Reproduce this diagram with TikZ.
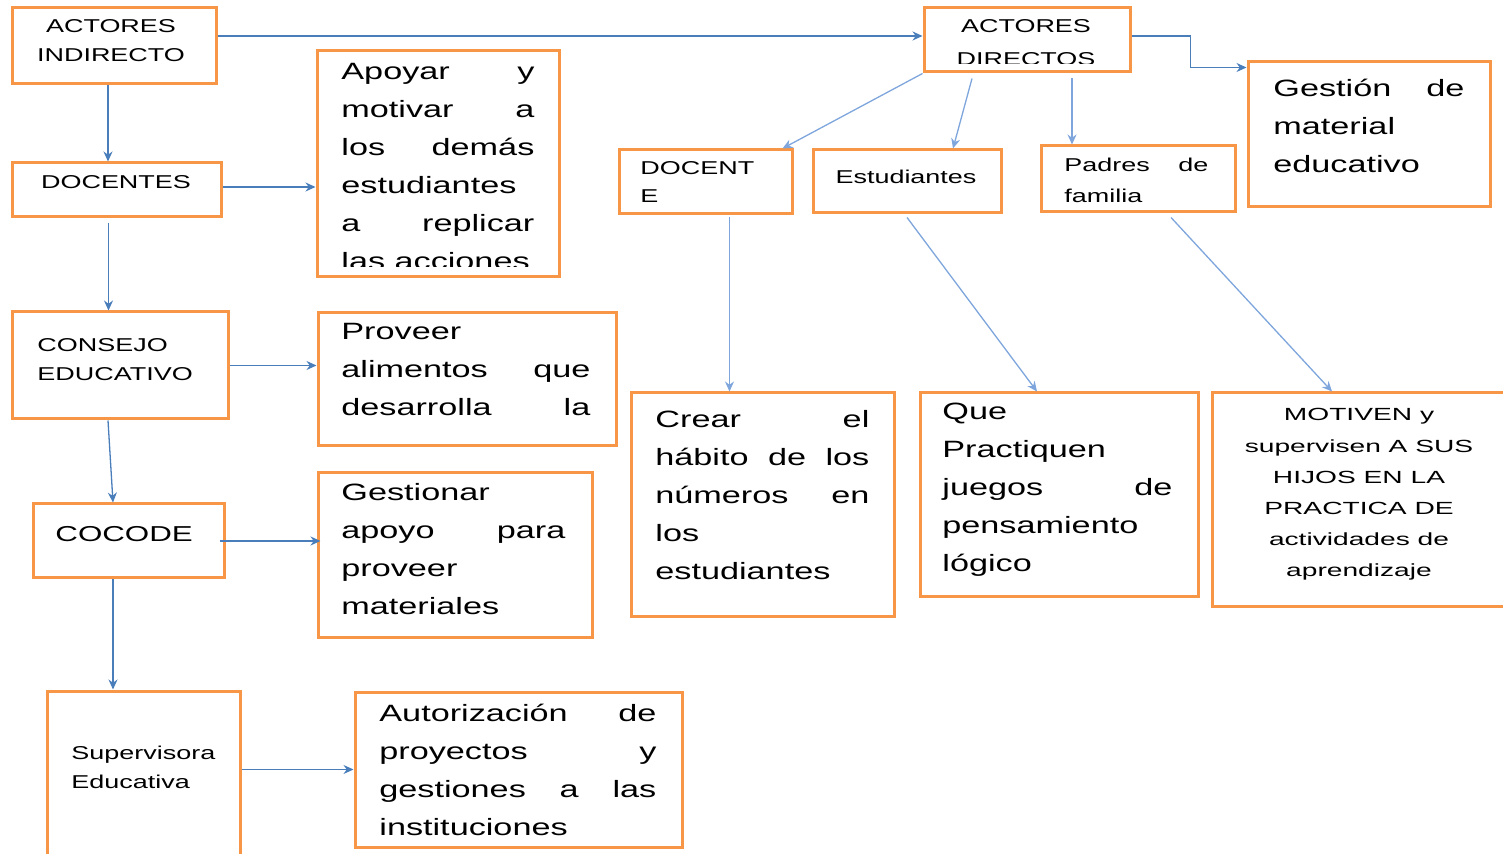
\documentclass[tikz,border=0pt]{standalone}
\usepackage{fontspec}
\usepackage{tikz}
\usetikzlibrary{fit,arrows.meta}
\newfontfamily\widefont[FakeStretch=1.45]{Liberation Sans}
\newfontfamily\motfont[FakeStretch=1.6]{Liberation Sans}
\definecolor{boxorange}{HTML}{F79646}
\definecolor{arrblue}{HTML}{4A7EBB}
\definecolor{arrlight}{HTML}{7EA6DC}
\newcommand{\jpar}[2]{\parbox[t]{#1}{#2}}
\newcommand{\cpar}[2]{\parbox[t]{#1}{\centering #2}}
\tikzset{
	obox/.style={draw=boxorange, line width=1.5pt, inner sep=0pt},
	lbl/.style={inner sep=0pt, anchor=base west},
	clbl/.style={inner sep=0pt, anchor=base},
	bigtxt/.style={font=\widefont\fontsize{11.8}{19}\selectfont},
	smalltxt/.style={font=\widefont\fontsize{9.3}{14.5}\selectfont},
	arr/.style={-{Stealth[length=5pt,width=4.5pt]}, arrblue, line width=0.65pt},
	arrl/.style={arr, arrlight}
}

\begin{document}
\begin{tikzpicture}[x=0.5pt,y=-0.5pt]
	\useasboundingbox (0,0) rectangle (1503,854);
	\clip (0,0) rectangle (1503,854);
	% boxes
	\node[obox, fit={(12,8) (216,84)}] (ai) {};
	\node[obox, fit={(12,163) (221,217)}] (doc) {};
	\node[obox, fit={(12,312) (228,419)}] (cons) {};
	\node[obox, fit={(33,504) (224,578)}] (coc) {};
	\node[obox, fit={(47,691) (240,880)}] (sup) {};
	\node[obox, fit={(317,51) (559,277)}] (apo) {};
	\node[obox, fit={(318,313) (616,446)}] (prov) {};
	\node[obox, fit={(318,473) (592,637)}] (gest) {};
	\node[obox, fit={(355,692) (682,847)}] (aut) {};
	\node[obox, fit={(924,8) (1130,72)}] (ad) {};
	\node[obox, fit={(1248,62) (1490,207)}] (gm) {};
	\node[obox, fit={(619,150) (792,214)}] (dd) {};
	\node[obox, fit={(813,150) (1001,213)}] (est) {};
	\node[obox, fit={(1041,146) (1235,212)}] (pad) {};
	\node[obox, fit={(631,393) (894,617)}] (cre) {};
	\node[obox, fit={(920,393) (1198,597)}] (que) {};
	\node[obox, fit={(1212,393) (1530,607)}] (mot) {};
	% texts
	\node[clbl, smalltxt] (ai-t) at (111,33) {\cpar{90pt}{ACTORES\\INDIRECTO}};
	\node[clbl, smalltxt] (doc-t) at (116,189) {DOCENTES};
	\node[lbl, smalltxt] (cons-t) at (37,352) {\jpar{90pt}{CONSEJO\\EDUCATIVO}};
	\node[lbl, font=\widefont\fontsize{10.8}{14}\selectfont] (coc-t) at (55,542) {COCODE};
	\node[lbl, smalltxt] (sup-t) at (71,759) {\jpar{90pt}{Supervisora\\Educativa}};
	\begin{scope}
		\clip (317,51) rectangle (559,267);
		\node[lbl, bigtxt] (apo-t) at (341,80) {\jpar{96.5pt}{Apoyar\hfill y\\motivar\hfill a\\los\hfill demás\\estudiantes\\a\hfill replicar\\las acciones}};
	\end{scope}
	\node[lbl, bigtxt] (prov-t) at (341,340) {\jpar{124.5pt}{Proveer\\alimentos\hfill que\\desarrolla\hfill la}};
	\node[lbl, bigtxt] (gest-t) at (341,501) {\jpar{112pt}{Gestionar\\apoyo\hfill para\\proveer\\materiales}};
	\node[lbl, bigtxt] (aut-t) at (379,721) {\jpar{138.5pt}{Autorización\hfill de\\proyectos\hfill y\\gestiones\hfill a\hfill las\\instituciones}};
	\begin{scope}
		\clip (924,8) rectangle (1130,64);
		\node[clbl, font=\widefont\fontsize{9.3}{16.5}\selectfont] (ad-t) at (1026,33) {\cpar{90pt}{ACTORES\\DIRECTOS}};
	\end{scope}
	\node[lbl, bigtxt] (gm-t) at (1273,97) {\jpar{95.5pt}{Gestión\hfill de\\material\\educativo}};
	\node[lbl, font=\widefont\fontsize{9.3}{14}\selectfont] (dd-t) at (640,175) {\jpar{60pt}{DOCENT\\E}};
	\node[clbl, smalltxt] (est-t) at (906,184) {Estudiantes};
	\node[lbl, font=\widefont\fontsize{9.3}{15.5}\selectfont] (pad-t) at (1064,172) {\jpar{72pt}{Padres\hfill de\\familia}};
	\node[lbl, bigtxt] (cre-t) at (655,428) {\jpar{107pt}{Crear\hfill el\\hábito\hfill de\hfill los\\números\hfill en\\los\\estudiantes}};
	\node[lbl, bigtxt] (que-t) at (942,420) {\jpar{115pt}{Que\\Practiquen\\juegos\hfill de\\pensamiento\\lógico}};
	\node[clbl, font=\motfont\fontsize{8.8}{15.6}\selectfont] (mot-t) at (1359,421) {\cpar{140pt}{MOTIVEN y\\supervisen A SUS\\HIJOS EN LA\\PRACTICA DE\\actividades de\\aprendizaje}};
	% connectors
	\path[arr]
	([yshift=2pt]ai.east |- ad.west) edge ([yshift=2pt]ad.west)
	([xshift=-3pt]ai.south) edge ([xshift=-3pt]ai.south |- doc.north)
	([yshift=1.5pt]doc.east) edge ([yshift=1.5pt]doc.east -| apo.west)
	([xshift=-4pt,yshift=-2.5pt]doc.south) edge ([xshift=-4pt]doc.south |- cons.north)
	(cons.east) edge (cons.east -| prov.west)
	([xshift=-6pt]cons.south) edge ([xshift=-7.75pt]coc.north)
	([xshift=-3pt]coc.east) edge ([xshift=2pt]coc.east -| gest.west)
	([xshift=-7.75pt]coc.south) edge ([xshift=-7.75pt]coc.south |- sup.north)
	(sup.east |- aut.west) edge (aut.west);
	\draw[arr] ([yshift=2pt]ad.east) -- ++(59,0) |- ([yshift=-3.5pt]gm.north west);
	\path[arrl]
	(ad.south west) edge ([xshift=-5.5pt]dd.north east)
	([xshift=-27.5pt,yshift=-2.5pt]ad.south) edge ([xshift=23pt]est.north)
	([xshift=22.5pt,yshift=-2.5pt]ad.south) edge ([xshift=22.5pt]ad.south |- pad.north)
	([xshift=12pt,yshift=-1pt]dd.south) edge ([xshift=12pt]dd.south |- cre.north)
	([yshift=-1.5pt]est.south) edge ([xshift=-11pt]que.north)
	([xshift=16.5pt,yshift=-2pt]pad.south) edge ([xshift=-19.5pt]mot.north);
\end{tikzpicture}
\end{document}
